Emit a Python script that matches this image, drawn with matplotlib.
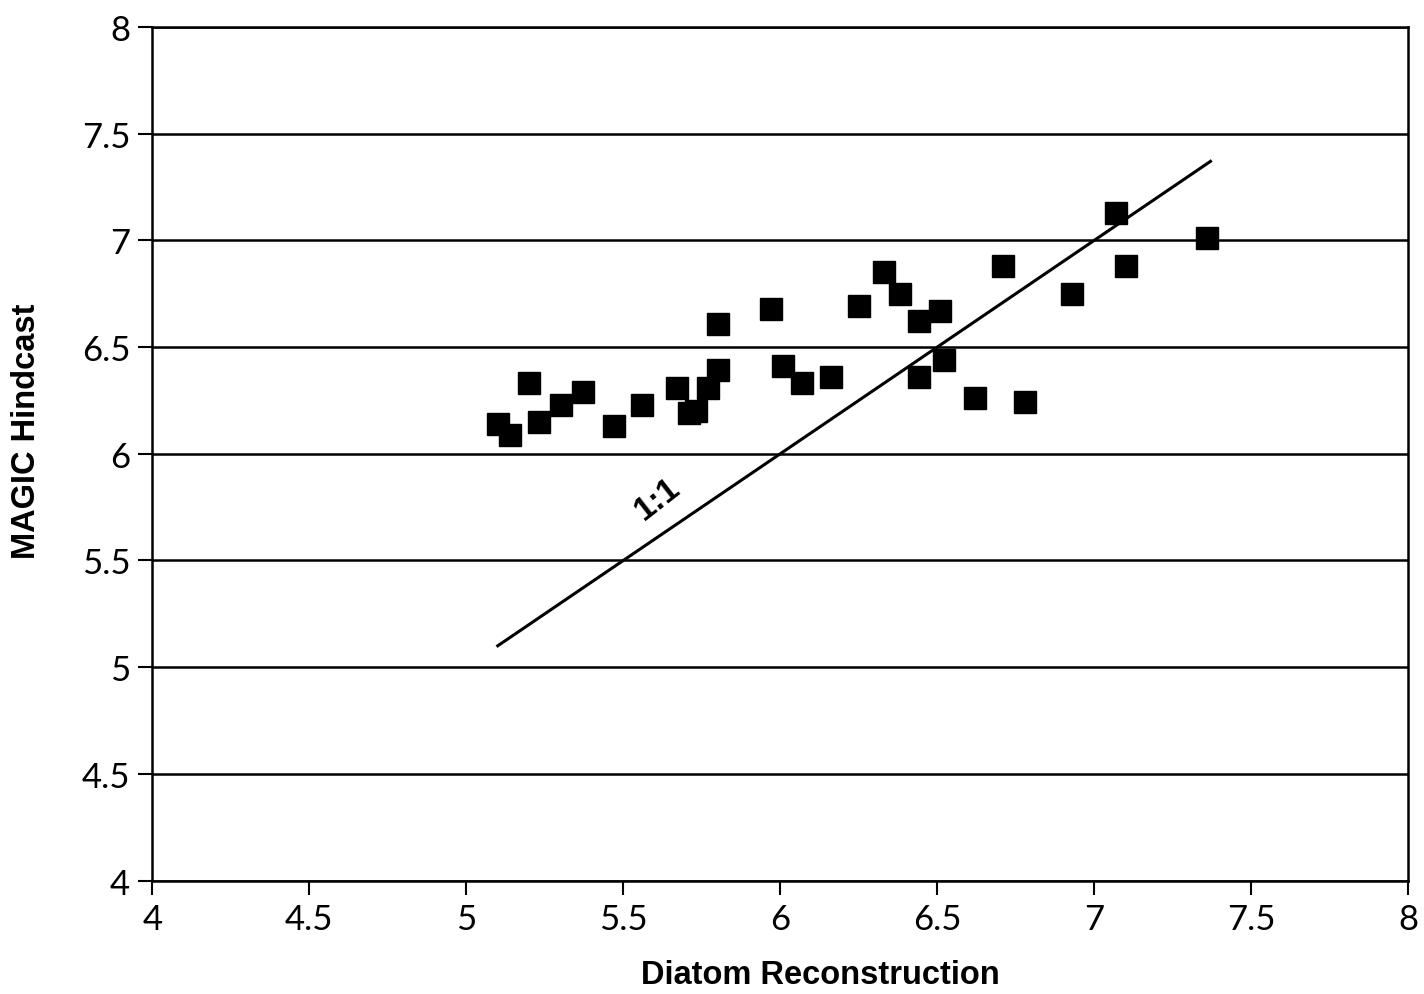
import numpy as np
import matplotlib
matplotlib.use("Agg")
import matplotlib.pyplot as plt

# diatom-inferred vs MAGIC hindcast pH, one point per lake
diatom = [5.10, 5.14, 5.20, 5.23, 5.30, 5.37, 5.47, 5.56, 5.67, 5.71, 5.73,
          5.77, 5.80, 5.80, 5.97, 6.01, 6.07, 6.16, 6.25, 6.33, 6.38, 6.44,
          6.44, 6.51, 6.52, 6.62, 6.71, 6.78, 6.93, 7.07, 7.10, 7.36]
magic = [6.14, 6.09, 6.33, 6.15, 6.23, 6.29, 6.13, 6.23, 6.31, 6.19, 6.20,
         6.31, 6.39, 6.61, 6.68, 6.41, 6.33, 6.36, 6.69, 6.85, 6.75, 6.62,
         6.36, 6.67, 6.44, 6.26, 6.88, 6.24, 6.75, 7.13, 6.88, 7.01]
one_to_one = [5.10, 7.37]
ticks = [4, 4.5, 5, 5.5, 6, 6.5, 7, 7.5, 8]
tick_labels = ["4", "4.5", "5", "5.5", "6", "6.5", "7", "7.5", "8"]

plt.rcParams["font.family"] = ["Lato", "DejaVu Sans"]
BOLD = ["Liberation Sans", "DejaVu Sans"]

fig = plt.figure(figsize=(14.24, 9.95), dpi=100)
ax = fig.add_axes([0.107, 0.114, 0.882, 0.858])

ax.set_xlim(4, 8); ax.set_ylim(4, 8)
ax.set_xticks(ticks); ax.set_xticklabels(tick_labels)
ax.set_yticks(ticks); ax.set_yticklabels(tick_labels)
ax.tick_params(axis="both", direction="out", length=10, width=1.5, labelsize=25,
               colors="black", pad=6)
for s in ax.spines.values():
    s.set_linewidth(1.8); s.set_color("black")

ax.yaxis.grid(True, color="black", lw=1.8)
ax.set_axisbelow(True)

ax.plot(one_to_one, one_to_one, color="black", lw=2.2, zorder=2)
ax.text(5.61, 5.79, "1:1", rotation=38, fontsize=24, fontweight="bold",
        ha="center", va="center", family=BOLD)

ax.plot(diatom, magic, "s", color="black", ms=16.5, mec="black", zorder=3)

ax.set_xlabel("Diatom Reconstruction", fontsize=23.5, fontweight="bold", family=BOLD)
ax.set_ylabel("MAGIC Hindcast", fontsize=23.5, fontweight="bold", family=BOLD)
ax.xaxis.set_label_coords(0.532, -0.092)
ax.yaxis.set_label_coords(-0.088, 0.528)

fig.savefig("out.png", dpi=100, facecolor="white")
